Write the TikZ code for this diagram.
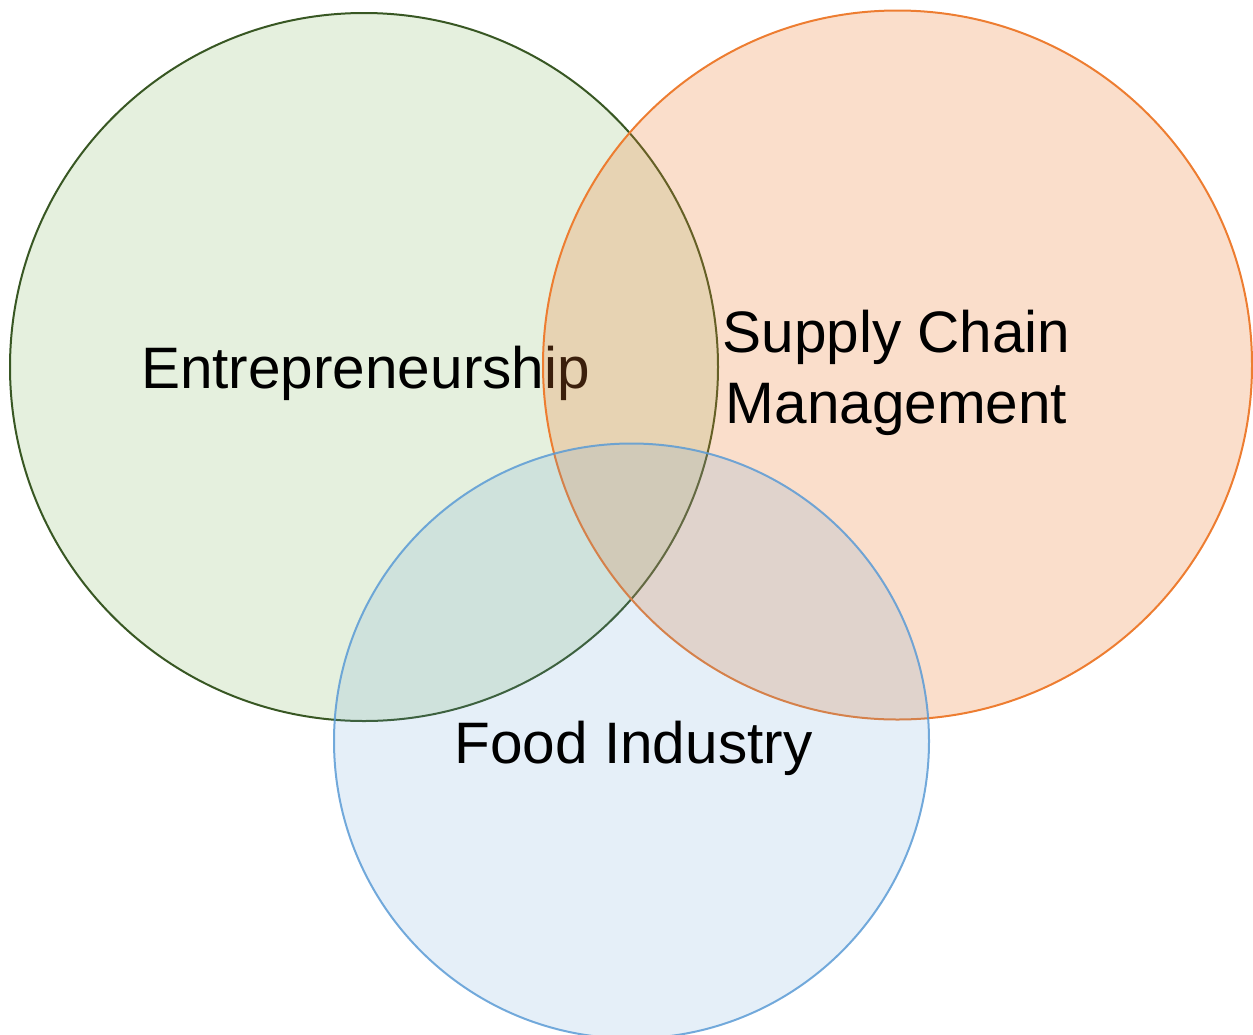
\documentclass[tikz,border=0pt]{standalone}
\usepackage{fontspec}
\setmainfont{Liberation Sans}
\definecolor{gstroke}{HTML}{385723}
\definecolor{gfill}{HTML}{70AD47}
\definecolor{ostroke}{HTML}{ED7D31}
\definecolor{bstroke}{HTML}{5B9BD5}
\begin{document}
\begin{tikzpicture}[x=1pt,y=-1pt,
  venn/.style={circle, inner sep=0pt, line width=2pt},
  lbl/.style={inner sep=0pt, anchor=base, align=center, font=\fontsize{58.5}{71}\selectfont}]
\useasboundingbox (0,0) rectangle (1253,1034);
\node[venn, minimum size=708pt, draw=gstroke, fill=gfill, fill opacity=0.18] (ent) at (364,367) {};
\node[lbl] (entlbl) at (365.5,388) {Entrepreneurship};
\node[venn, minimum size=709pt, draw=ostroke, fill=ostroke, fill opacity=0.25] (scm) at (897.5,365) {};
\node[lbl] (scmlbl) at (896.5,423) {Supply Chain\\Management};
\node[venn, minimum size=595pt, draw=bstroke, draw opacity=0.85, fill=bstroke, fill opacity=0.16] (food) at (631.5,741) {};
\node[lbl] (foodlbl) at (633.5,763) {Food Industry};
\end{tikzpicture}
\end{document}
